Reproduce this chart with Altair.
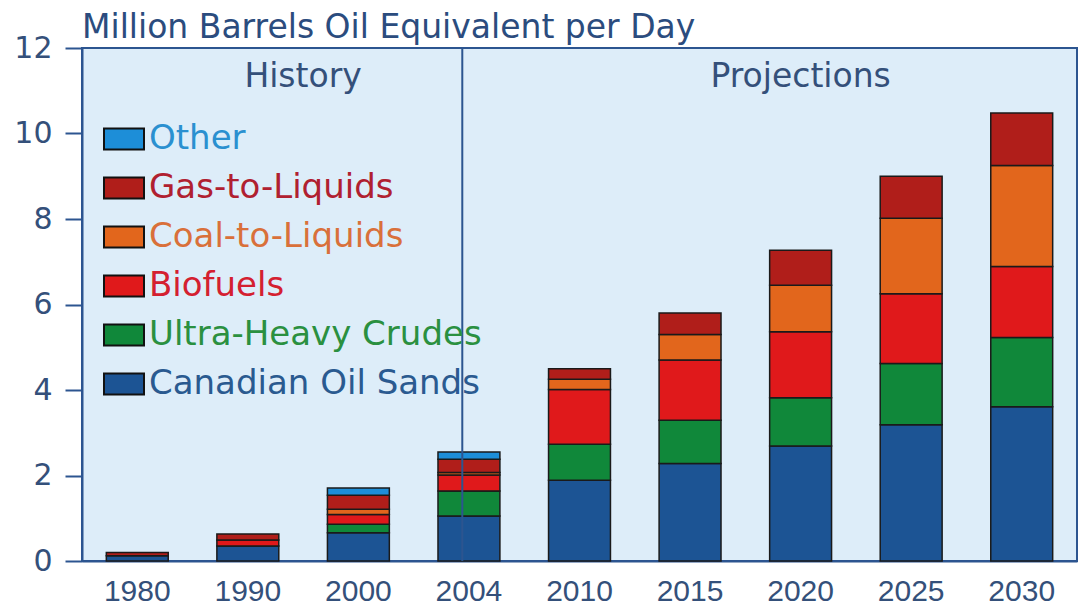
import altair as alt
import pandas as pd

years = ["1980", "1990", "2000", "2004", "2010", "2015", "2020", "2025", "2030"]
series = ["Canadian Oil Sands", "Ultra-Heavy Crudes", "Biofuels",
          "Coal-to-Liquids", "Gas-to-Liquids", "Other"]
canadian_oil_sands = [0.12, 0.35, 0.66, 1.05, 1.89, 2.28, 2.69, 3.19, 3.61]
ultra_heavy_crudes = [0.00, 0.00, 0.20, 0.59, 0.84, 1.01, 1.13, 1.43, 1.62]
biofuels = [0.00, 0.14, 0.23, 0.37, 1.28, 1.41, 1.54, 1.63, 1.66]
coal_to_liquids = [0.00, 0.00, 0.12, 0.06, 0.24, 0.60, 1.09, 1.77, 2.36]
gas_to_liquids = [0.08, 0.14, 0.33, 0.31, 0.25, 0.50, 0.82, 0.98, 1.23]
other = [0.00, 0.00, 0.17, 0.17, 0.00, 0.00, 0.00, 0.00, 0.00]

fill_colors = ["#1c5494", "#10883a", "#e0191b", "#e2661c", "#b01e1a", "#1d8ed8"]
label_colors = ["#2a5a90", "#2a9040", "#d42030", "#d9703a", "#b02030", "#2a90d0"]

values = [canadian_oil_sands, ultra_heavy_crudes, biofuels,
          coal_to_liquids, gas_to_liquids, other]
rows = []
for i, yr in enumerate(years):
    for k, name in enumerate(series):
        v = values[k][i]
        if v > 0:
            rows.append({"year": yr, "series": name, "value": v, "stack": k})
df = pd.DataFrame(rows)

legend_order = list(reversed(series))
legend_fill = list(reversed(fill_colors))
label_expr = " : ".join(
    f"datum.label == '{n}' ? '{c}'" for n, c in zip(series, label_colors)
) + " : '#333333'"

FONT = "Liberation Sans"
WIDE = "DejaVu Sans"
TEXT_BLUE = "#34507a"
LINE_BLUE = "#2c5590"

x_axis = alt.Axis(title=None, labelAngle=0, ticks=False, labelFontSize=30,
                  labelColor=TEXT_BLUE, labelPadding=15, domainColor=LINE_BLUE,
                  domainWidth=2, labelFont=FONT)
x_scale = alt.Scale(domain=years, paddingInner=0.44, paddingOuter=0.22)


def xenc(band_pos):
    return alt.X("year:N", sort=years, scale=x_scale, axis=x_axis,
                 bandPosition=band_pos)


bars = alt.Chart(df).mark_bar(stroke="#1a1a1a", strokeWidth=1.5).encode(
    x=xenc(0.5),
    y=alt.Y("value:Q", stack="zero",
            scale=alt.Scale(domain=[0, 12], nice=False),
            axis=alt.Axis(title=None, values=[0, 2, 4, 6, 8, 10, 12], grid=False,
                          labelFontSize=30, labelColor=TEXT_BLUE, labelFont=WIDE,
                          tickSize=17, tickColor=LINE_BLUE, tickWidth=2,
                          domainColor=LINE_BLUE, domainWidth=2, labelPadding=13)),
    color=alt.Color("series:N",
                    scale=alt.Scale(domain=legend_order, range=legend_fill),
                    legend=alt.Legend(
                        title=None, orient="none", legendX=21, legendY=70,
                        symbolType="M-1,-0.525L1,-0.525L1,0.525L-1,0.525Z",
                        symbolSize=1600, symbolStrokeColor="#111111",
                        symbolStrokeWidth=2, symbolOpacity=1,
                        labelFontSize=34, labelFont=WIDE,
                        labelColor={"expr": label_expr},
                        rowPadding=11, labelOffset=4, padding=0,
                        labelLimit=600)),
    order=alt.Order("stack:Q", sort="ascending"),
)

GAP_HALF = 24.3  # half of the inner padding between bands, in pixels

divider = alt.Chart(pd.DataFrame({"year": ["2004"]})).mark_rule(
    color=LINE_BLUE, strokeWidth=2
).encode(x=xenc(1), xOffset=alt.value(GAP_HALF))

hist = alt.Chart(pd.DataFrame({"year": ["1990"], "label": ["History"]})).mark_text(
    fontSize=33, font=WIDE, color=TEXT_BLUE, baseline="middle", align="center",
    dx=GAP_HALF
).encode(x=xenc(1), y=alt.value(29), text="label:N")

proj = alt.Chart(pd.DataFrame({"year": ["2020"], "label": ["Projections"]})).mark_text(
    fontSize=33, font=WIDE, color=TEXT_BLUE, baseline="middle", align="center"
).encode(x=xenc(0.5), y=alt.value(29), text="label:N")

chart = alt.layer(bars, divider, hist, proj).properties(
    width=995, height=513,
    autosize=alt.AutoSizeParams(type="none"),
    padding={"left": 82, "top": 48, "right": 12, "bottom": 48},
    title=alt.TitleParams("Million Barrels Oil Equivalent per Day", anchor="start",
                          frame="group", fontSize=33, font=WIDE,
                          fontWeight="normal", color="#2b4c7e", offset=-12),
    background="white",
).configure_view(fill="#ddedf9", stroke=LINE_BLUE, strokeWidth=2)

chart.save("out.html", embed_options={"renderer": "svg", "actions": False})
